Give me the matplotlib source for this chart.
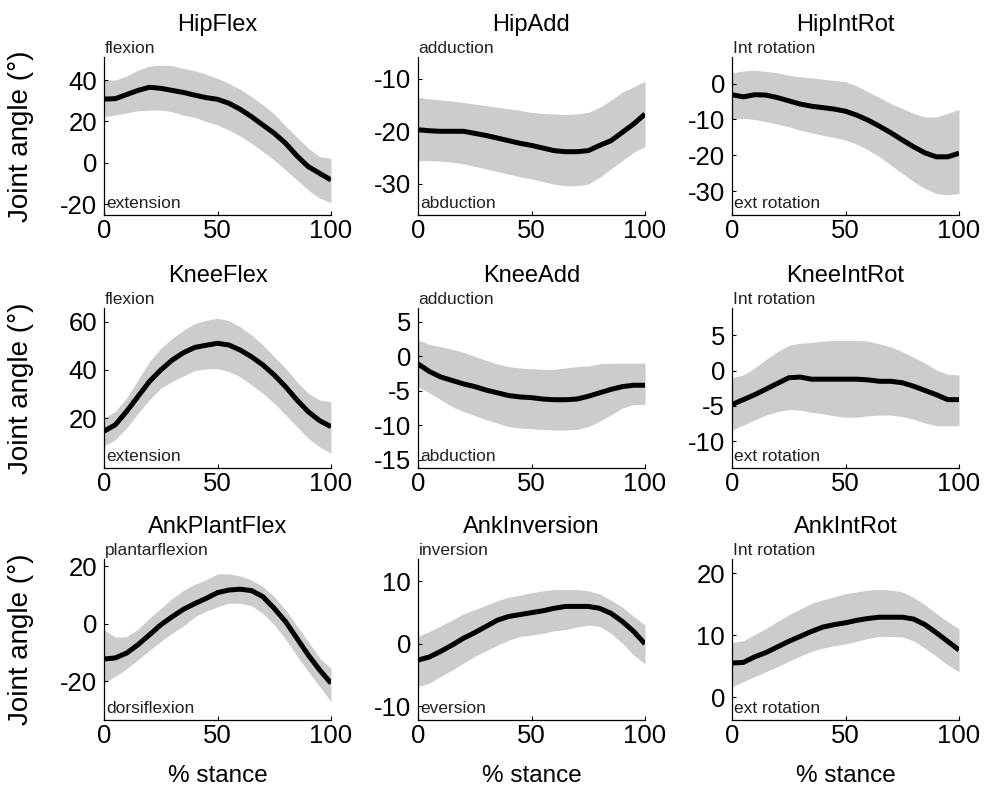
import matplotlib
matplotlib.use("Agg")
import matplotlib.pyplot as plt
import numpy as np

plt.rcParams['font.family'] = ['Liberation Sans', 'DejaVu Sans']
plt.rcParams['axes.unicode_minus'] = False

stance = [0, 5, 10, 15, 20, 25, 30, 35, 40, 45, 50, 55, 60, 65, 70, 75, 80, 85, 90, 95, 100]

titles = ["HipFlex", "HipAdd", "HipIntRot",
          "KneeFlex", "KneeAdd", "KneeIntRot",
          "AnkPlantFlex", "AnkInversion", "AnkIntRot"]
top_labels = ["flexion", "adduction", "Int rotation",
              "flexion", "adduction", "Int rotation",
              "plantarflexion", "inversion", "Int rotation"]
bottom_labels = ["extension", "abduction", "ext rotation",
                 "extension", "abduction", "ext rotation",
                 "dorsiflexion", "eversion", "ext rotation"]
y_ticks = [[-20, 0, 20, 40], [-30, -20, -10], [-30, -20, -10, 0],
           [20, 40, 60], [-15, -10, -5, 0, 5], [-10, -5, 0, 5],
           [-20, 0, 20], [-10, 0, 10], [0, 10, 20]]
y_limits = [(-25.1, 51.1), (-36.0, -5.8), (-36.6, 7.4),
            (-0.8, 65.8), (-16.2, 7.0), (-13.8, 8.9),
            (-33.4, 22.6), (-12.2, 13.6), (-3.7, 22.3)]

hipflex_mean = [30.8, 31, 33, 35, 36.5, 36, 35, 34, 32.7, 31.5, 30.7, 28.8, 25.9, 22.3, 18.3, 14.3, 9.5, 3.4, -1.8, -5, -8.2]
hipflex_upper = [40, 40, 41.9, 44.8, 46.7, 47.2, 46.9, 45.6, 44.5, 42.8, 40.8, 38.4, 35.5, 32, 28, 23.6, 17.8, 12.4, 7.1, 3, 2.2]
hipflex_lower = [22.3, 23.1, 24.2, 25.2, 25.5, 25.5, 24.7, 23.1, 22, 20, 18.3, 15.9, 13, 9.5, 5.5, 1.4, -3.4, -8.2, -13, -17, -19.1]

hipadd_mean = [-19.7, -19.9, -20, -20, -20, -20.4, -20.8, -21.3, -21.8, -22.3, -22.7, -23.2, -23.7, -23.9, -23.9, -23.7, -22.7, -21.8, -20.2, -18.6, -16.7]
hipadd_upper = [-13.5, -13.8, -14, -14.2, -14.5, -14.8, -15.1, -15.4, -15.7, -16.0, -16.4, -16.6, -16.7, -16.8, -16.7, -16.4, -15.4, -14.1, -12.5, -11.5, -10.4]
hipadd_lower = [-25.6, -25.6, -25.7, -25.9, -26.2, -26.7, -27.2, -27.7, -28.2, -28.7, -29.1, -29.6, -30.1, -30.4, -30.4, -30.1, -28.8, -27.2, -25.6, -24.0, -22.9]

hipint_mean = [-3.1, -3.7, -3.1, -3.2, -3.9, -4.8, -5.7, -6.3, -6.7, -7.1, -7.7, -8.8, -10.2, -11.9, -13.7, -15.7, -17.6, -19.3, -20.4, -20.4, -19.4]
hipint_upper = [3.0, 3.5, 3.7, 3.4, 3.0, 2.3, 1.9, 1.6, 1.2, 0.9, 0.5, -0.7, -2.3, -3.9, -5.6, -6.9, -8.3, -9.3, -9.3, -8.3, -7.2]
hipint_lower = [-9.7, -9.7, -10, -10.6, -11.3, -12, -13, -13.7, -14.4, -15, -15.7, -16.9, -18.5, -20.4, -22.7, -25, -27.3, -29.2, -30.6, -31, -30.6]

kneeflex_mean = [14.5, 17.2, 22.8, 29, 35.2, 40, 44.1, 47.2, 49.4, 50.3, 51.1, 50.4, 48.3, 45.5, 42.1, 37.9, 33, 27.5, 22.6, 18.9, 16.4]
kneeflex_upper = [20, 22.8, 28.3, 35.9, 43.4, 49, 53.1, 56.6, 59.3, 60.7, 61.5, 60.5, 58, 54.6, 50.4, 45.5, 40.7, 35.1, 30.3, 27.5, 26.8]
kneeflex_lower = [8.3, 11, 15.9, 22, 27.6, 32.4, 35.2, 37.5, 39.8, 40.4, 40.6, 39.3, 37.2, 33.8, 30.3, 26.1, 21.3, 16.4, 11.5, 8, 5.3]

kneeadd_mean = [-1.1, -2.2, -3, -3.5, -4, -4.4, -4.9, -5.3, -5.7, -5.9, -6, -6.2, -6.3, -6.3, -6.2, -5.8, -5.3, -4.8, -4.4, -4.2, -4.2]
kneeadd_upper = [2.4, 1.7, 1.4, 1.0, 0.6, 0, -0.6, -1.1, -1.5, -1.7, -1.8, -1.9, -1.9, -1.7, -1.5, -1.4, -1.1, -1.0, -1.0, -1.0, -1.0]
kneeadd_lower = [-4.4, -5.3, -6.3, -7.3, -8, -8.6, -9.2, -9.7, -10.2, -10.4, -10.5, -10.6, -10.7, -10.7, -10.6, -10.2, -9.4, -8.5, -7.5, -7, -7]

kneeint_mean = [-4.8, -4.1, -3.4, -2.6, -1.8, -1.0, -0.9, -1.2, -1.2, -1.2, -1.2, -1.2, -1.3, -1.5, -1.5, -1.7, -2.2, -2.8, -3.4, -4.1, -4.1]
kneeint_upper = [-1.0, -0.6, 0.4, 1.6, 2.7, 3.6, 3.9, 4.0, 4.2, 4.3, 4.3, 4.3, 4.2, 3.8, 3.4, 2.7, 1.9, 1.1, 0.1, -0.5, -0.6]
kneeint_lower = [-8.4, -7.7, -7.0, -6.3, -5.8, -5.5, -5.6, -5.9, -6.1, -6.4, -6.6, -6.6, -6.4, -6.3, -6.3, -6.5, -6.9, -7.4, -7.8, -7.8, -7.8]

ankpf_mean = [-12.2, -11.8, -10.1, -7.2, -3.8, -0.3, 2.5, 5.1, 7.1, 8.9, 10.9, 11.8, 12.1, 11.6, 9.5, 5.4, 0.8, -5, -10.8, -16, -20.6]
ankpf_upper = [-2, -4.6, -4.4, -1.8, 2, 5.4, 8.9, 11.7, 13.8, 15.4, 17.4, 17.4, 16.7, 15.3, 13, 9.5, 4.9, -0.7, -6.1, -11.9, -15.4]
ankpf_lower = [-20.5, -18.2, -15.6, -12.4, -9.2, -6.1, -3.2, -0.7, 2.5, 4.5, 6.0, 7.2, 7.2, 6.3, 3.7, -0.3, -5.3, -11.1, -16.6, -21.8, -27]

ankinv_mean = [-2.6, -2.1, -1.2, -0.2, 0.9, 1.8, 2.8, 3.8, 4.4, 4.7, 5, 5.3, 5.7, 6, 6, 6, 5.7, 4.9, 3.6, 2, 0]
ankinv_upper = [1.2, 2, 2.9, 3.8, 4.8, 5.5, 6.2, 6.9, 7.5, 7.8, 8.2, 8.5, 8.7, 8.7, 8.7, 8.5, 8, 7, 5.9, 4.4, 3]
ankinv_lower = [-6.8, -6.3, -5.2, -4.2, -3.1, -2, -1.1, -0.2, 0.6, 1.2, 1.4, 1.7, 2.1, 2.3, 2.7, 3, 2.8, 1.7, 0.1, -1.8, -3.2]

ankint_mean = [5.5, 5.6, 6.5, 7.2, 8.1, 9, 9.8, 10.6, 11.3, 11.7, 12, 12.4, 12.7, 12.9, 12.9, 12.9, 12.6, 11.7, 10.4, 9, 7.6]
ankint_upper = [8.8, 9.1, 10.1, 11.1, 12.2, 13.3, 14.2, 15.1, 15.7, 16.2, 16.7, 17, 17.3, 17.4, 17.3, 17, 16.1, 14.9, 13.5, 12.2, 11]
ankint_lower = [1.7, 2.5, 3.3, 4.1, 4.9, 5.8, 6.6, 7.4, 7.9, 8.3, 8.6, 9, 9.5, 9.8, 9.8, 9.7, 9.1, 7.9, 6.6, 5.2, 4.1]

means = [hipflex_mean, hipadd_mean, hipint_mean, kneeflex_mean, kneeadd_mean,
         kneeint_mean, ankpf_mean, ankinv_mean, ankint_mean]
uppers = [hipflex_upper, hipadd_upper, hipint_upper, kneeflex_upper, kneeadd_upper,
          kneeint_upper, ankpf_upper, ankinv_upper, ankint_upper]
lowers = [hipflex_lower, hipadd_lower, hipint_lower, kneeflex_lower, kneeadd_lower,
          kneeint_lower, ankpf_lower, ankinv_lower, ankint_lower]

W, H = 989, 796
fig = plt.figure(figsize=(W / 100, H / 100), dpi=100)

col_left = [104, 418, 732]
col_width = 227
rows = [(57, 215), (308, 468), (559, 720)]

for i in range(9):
    r, c = divmod(i, 3)
    top, bot = rows[r]
    ax = fig.add_axes([col_left[c] / W, 1 - bot / H, col_width / W, (bot - top) / H])
    ax.fill_between(stance, lowers[i], uppers[i], color='#cccccc', linewidth=0)
    ax.plot(stance, means[i], color='black', linewidth=3.6, solid_capstyle='butt')
    ax.set_xlim(0, 100)
    ax.set_ylim(*y_limits[i])
    ax.set_xticks([0, 50, 100])
    ax.set_yticks(y_ticks[i])
    for s in ['top', 'right']:
        ax.spines[s].set_visible(False)
    for s in ['left', 'bottom']:
        ax.spines[s].set_linewidth(0.9)
        ax.spines[s].set_color('black')
    ax.tick_params(direction='in', length=3, width=0.8, labelsize=18.5, pad=3, colors='black')
    ax.tick_params(axis='y', pad=5)
    ax.set_title(titles[i], fontsize=17, pad=18.5)
    ax.annotate(top_labels[i], xy=(0, 1), xycoords='axes fraction', xytext=(0.5, 3),
                textcoords='offset points', va='baseline', ha='left', fontsize=12.5,
                color='#222222', annotation_clip=False)
    ax.annotate(bottom_labels[i], xy=(0, 0), xycoords='axes fraction', xytext=(1.5, 5),
                textcoords='offset points', va='baseline', ha='left', fontsize=12.5,
                color='#222222', annotation_clip=False)
    if c == 0:
        ax.set_ylabel('Joint angle (°)', fontsize=20)
        ax.yaxis.set_label_coords(-0.31, 0.5)
    if r == 2:
        ax.set_xlabel('% stance', fontsize=17.5)
        ax.xaxis.set_label_coords(0.5, -0.28)

fig.savefig('out.png', dpi=100, facecolor='white')
